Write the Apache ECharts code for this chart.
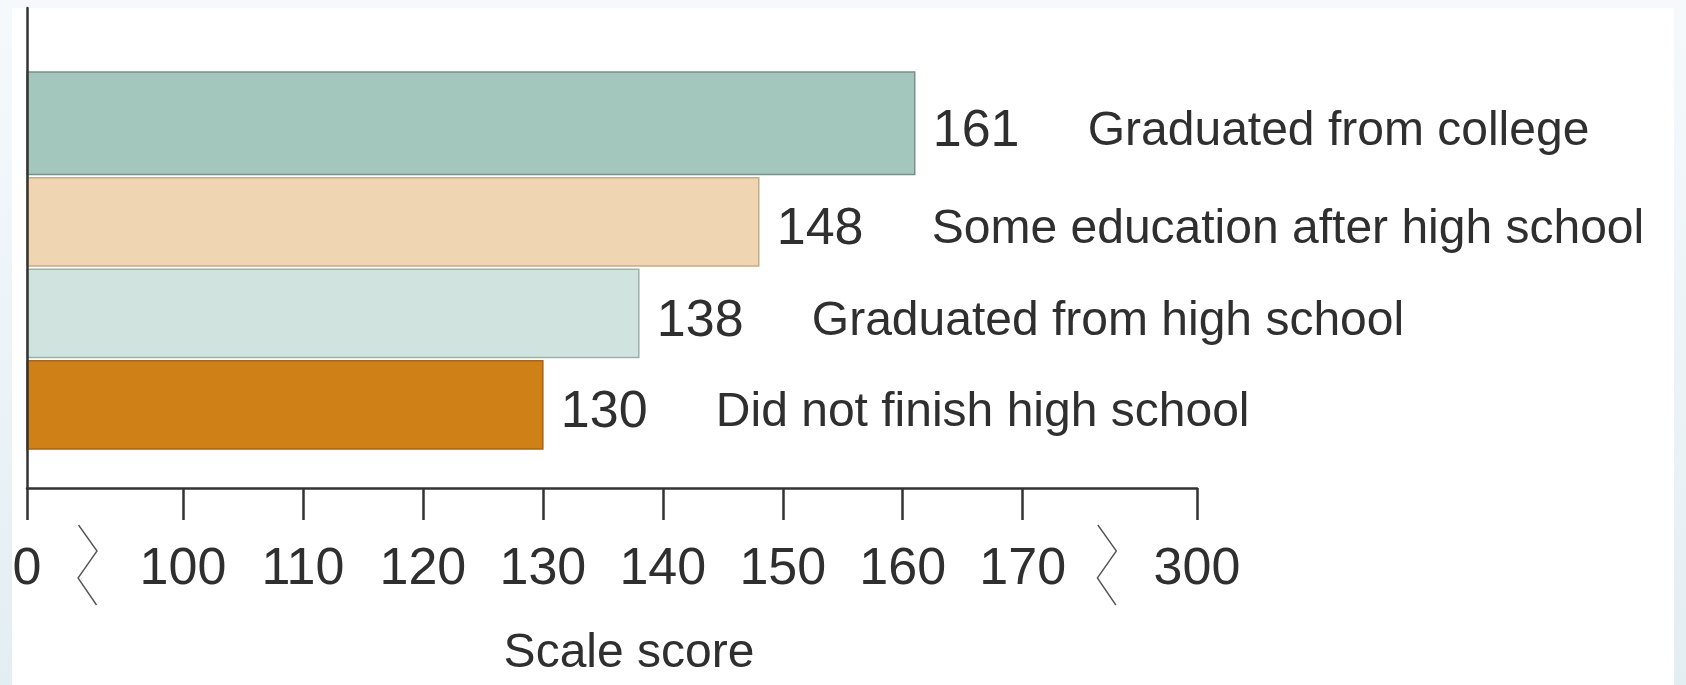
<!DOCTYPE html>
<html>
<head>
<meta charset="utf-8">
<title>Scale score by parents' education</title>
<script src="https://cdn.jsdelivr.net/npm/echarts@6/dist/echarts.min.js"></script>
<style>
  html, body { margin: 0; padding: 0; }
  body {
    width: 1686px; height: 685px; overflow: hidden; position: relative;
    background: linear-gradient(180deg, #f5f9fc 0%, #e3eef2 100%);
  }
  #card { position: absolute; left: 12px; top: 8px; width: 1662px; height: 677px; background: #ffffff; }
  #chart { position: absolute; left: 0; top: 0; width: 1686px; height: 685px; }
</style>
</head>
<body>
<div id="card"></div>
<div id="chart"></div>
<script>
// ---- data ----
const categories = [
  'Graduated from college',
  'Some education after high school',
  'Graduated from high school',
  'Did not finish high school'
];
const scores = [161, 148, 138, 130];
const tickValues = [0, 100, 110, 120, 130, 140, 150, 160, 170, 300];
const axisBreaks = [[0, 100], [170, 300]];

// ---- styling ----
const barColors  = ['#a3c6bd', '#efd5b1', '#d1e3de', '#cf8118'];
const barBorders = ['#7b8f8a', '#c6ab88', '#9db1ab', '#a5661b'];
const textColor = '#2f2f2f';
const fontFamily = '"Liberation Sans", Arial, sans-serif';
const labelSize = 52;
const textSize = 48;

// Broken scale: each stretch of scores gets its own width in axis units
// (one unit = 10 points in the continuous part of the scale).
const segments = [
  { from: 0,   to: 100, span: 1.3 },
  { from: 100, to: 170, span: 7 },
  { from: 170, to: 300, span: 1.453 }
];
function toAxis(v) {
  let base = 0;
  for (const s of segments) {
    if (v <= s.to) return base + (v - s.from) / (s.to - s.from) * s.span;
    base += s.span;
  }
  return base;
}
const axisMax = segments.reduce((a, s) => a + s.span, 0);
const tickPositions = tickValues.map(toAxis);
function tickLabel(u) {
  const i = tickPositions.findIndex(p => Math.abs(p - u) < 1e-6);
  return i >= 0 ? String(tickValues[i]) : '';
}

// Vertical layout in row heights: rows stack upward from just above the x axis.
const Y_MAX = 5.246;
const ROW_BASE = 0.426;
const BAR_FILL = 0.965;
const LEAD_EXTRA = 0.155;   // the top bar is drawn a little taller

function renderBar(params, api) {
  const i = params.dataIndex;
  const n = scores.length;
  const row = ROW_BASE + (n - 1 - i);
  const top = row + BAR_FILL + (i === 0 ? LEAD_EXTRA : 0);
  const p0 = api.coord([0, row]);
  const p1 = api.coord([api.value(0), top]);
  const mid = (p0[1] + p1[1]) / 2 + 8;
  const lx = p1[0] + 18;
  return {
    type: 'group',
    children: [
      {
        type: 'rect',
        shape: { x: p0[0], y: p1[1], width: p1[0] - p0[0], height: p0[1] - p1[1] },
        style: { fill: barColors[i], stroke: barBorders[i], lineWidth: 1.5 }
      },
      {
        type: 'text', x: lx, y: mid,
        style: { text: String(scores[i]), fill: textColor, fontSize: labelSize, fontFamily: fontFamily,
                 align: 'left', verticalAlign: 'middle' }
      },
      {
        type: 'text', x: lx + 155, y: mid,
        style: { text: categories[i], fill: textColor, fontSize: textSize, fontFamily: fontFamily,
                 align: 'left', verticalAlign: 'middle' }
      }
    ]
  };
}

// Zigzag break marks sit in the label row, centred in the gap between the two labels.
function halfLabel(v) { return String(v).length * 0.556 * labelSize / 2; }
function renderBreak(params, api) {
  const [lo, hi] = axisBreaks[params.dataIndex];
  const base = api.coord([0, 0])[1];
  const left = api.coord([toAxis(lo), 0])[0] + halfLabel(lo);
  const right = api.coord([toAxis(hi), 0])[0] - halfLabel(hi);
  const cx = (left + right) / 2 - 3;
  return {
    type: 'polyline',
    shape: { points: [[cx - 9, base + 37], [cx + 9.5, base + 63], [cx - 9.5, base + 90], [cx + 9, base + 117]] },
    style: { stroke: '#555555', lineWidth: 1.4, fill: null }
  };
}

const chart = echarts.init(document.getElementById('chart'), null, { renderer: 'canvas' });
chart.setOption({
  backgroundColor: 'transparent',
  animation: false,
  grid: { left: 27, right: 489, top: 8, bottom: 197, containLabel: false, outerBoundsMode: 'none' },
  xAxis: {
    type: 'value',
    min: 0,
    max: axisMax,
    splitLine: { show: false },
    axisLine: { show: true, onZero: false, lineStyle: { color: '#333333', width: 2.5 } },
    axisTick: { show: true, length: 32, customValues: tickPositions, lineStyle: { color: '#333333', width: 2.5 } },
    axisLabel: {
      customValues: tickPositions,
      formatter: tickLabel,
      margin: 56,
      color: textColor,
      fontSize: labelSize,
      fontFamily: fontFamily,
      lineHeight: labelSize
    },
    name: 'Scale score',
    nameLocation: 'middle',
    nameGap: 142,
    nameTextStyle: { color: textColor, fontSize: textSize, fontFamily: fontFamily, lineHeight: textSize, padding: [0, 0, 0, 34] }
  },
  yAxis: {
    type: 'value',
    min: 0,
    max: Y_MAX,
    z: 5,
    splitLine: { show: false },
    axisTick: { show: false },
    axisLabel: { show: false },
    axisLine: { show: true, lineStyle: { color: '#333333', width: 2.5 } }
  },
  series: [
    {
      type: 'custom',
      name: 'Scale score',
      renderItem: renderBar,
      clip: false,
      encode: { x: 0, y: 1 },
      data: scores.map((s, i) => [toAxis(s), i])
    },
    {
      type: 'custom',
      name: 'Breaks',
      renderItem: renderBreak,
      clip: false,
      silent: true,
      encode: { x: 0, y: 1 },
      data: axisBreaks.map(b => [toAxis(b[0]), 0])
    }
  ]
});
</script>
</body>
</html>
